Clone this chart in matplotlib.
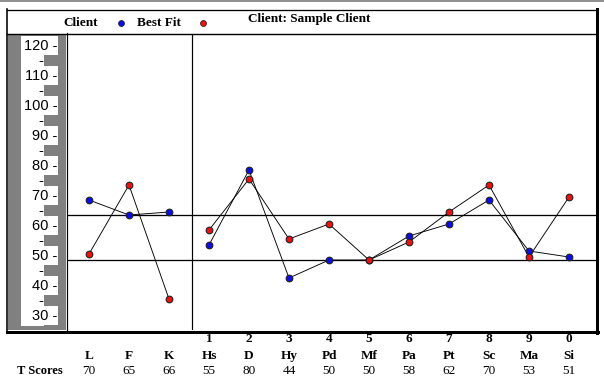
"""MMPI-style profile chart: client T scores vs best-fit profile."""

import matplotlib.pyplot as plt
from matplotlib.patches import Rectangle
from matplotlib.transforms import blended_transform_factory

scales = ["L", "F", "K", "Hs", "D", "Hy", "Pd", "Mf", "Pa", "Pt", "Sc", "Ma", "Si"]
scale_numbers = ["", "", "", "1", "2", "3", "4", "5", "6", "7", "8", "9", "0"]
client_scores = [70, 65, 66, 55, 80, 44, 50, 50, 58, 62, 70, 53, 51]
best_fit_scores = [52, 75, 37, 60, 77, 57, 62, 50, 56, 66, 75, 51, 71]
major_ticks = [120, 110, 100, 90, 80, 70, 60, 50, 40, 30]
reference_lines = [65, 50]
validity_count = 3  # L, F, K drawn as separate group

W, H = 604, 378
PX = 0.72  # points per pixel at dpi 100

BLUE = "#0a0aff"
RED = "#ff0a0a"
GRAY = "#808080"

fig = plt.figure(figsize=(W / 100, H / 100), dpi=100)


def box(x0, y0, x1, y1):
    return [x0 / W, 1 - y1 / H, (x1 - x0) / W, (y1 - y0) / H]


# main data area
ax = fig.add_axes(box(67, 34, 596, 330))
ax.set_xlim(-0.55, 12.675)
ax.set_ylim(26.67, 125.33)
ax.axis("off")

for v in reference_lines:
    ax.axhline(v, color="black", lw=1.3 * PX, zorder=1)
ax.axvline(validity_count - 0.425, color="black", lw=1.2 * PX, zorder=1)

idx = list(range(len(scales)))
for scores, color in [(client_scores, BLUE), (best_fit_scores, RED)]:
    for sl in (slice(0, validity_count), slice(validity_count, None)):
        ax.plot(idx[sl], scores[sl], color="black", lw=0.9 * PX, zorder=2)
    ax.plot(idx, scores, ls="none", marker="o", ms=4.8, mfc=color,
            mec="#202020", mew=0.8, zorder=3)

# gray scale strip on the left
strip = fig.add_axes(box(8, 34, 66, 330))
strip.set_xlim(8, 66)
strip.set_ylim(ax.get_ylim())
strip.set_facecolor(GRAY)
strip.set_xticks([])
strip.set_yticks([])
for s in strip.spines.values():
    s.set_visible(False)
strip.add_patch(Rectangle((21, 28.0), 23, 124.67 - 28.0, color="white", lw=0))
for v in major_ticks:
    strip.add_patch(Rectangle((21, v - 1.67), 37, 6.33, color="white", lw=0))
    strip.text(57.5, v + 1.2, f"{v} -", ha="right", va="center",
               fontsize=10.5, family="Liberation Sans")
    if v != major_ticks[-1]:
        strip.text(43.5, v - 5 + 1.2, "-", ha="right", va="center",
                   fontsize=10.5, family="Liberation Sans")

# overlay in pixel coordinates for frame and text
ov = fig.add_axes([0, 0, 1, 1], zorder=5)
ov.set_xlim(0, W)
ov.set_ylim(H, 0)
ov.axis("off")

ov.plot([0, W], [1, 1], color="#909090", lw=2 * PX, clip_on=False)
ov.plot([7, 7], [9, 332], color="black", lw=1.6 * PX)
ov.plot([7, 597], [9.5, 9.5], color="black", lw=1.3 * PX)
ov.plot([596.5, 596.5], [8.5, 333], color="black", lw=3 * PX)
ov.plot([7, 598], [331.5, 331.5], color="black", lw=3 * PX)
ov.plot([7, 596], [33.5, 33.5], color="black", lw=1.4 * PX)
ov.plot([66.5, 66.5], [33, 331], color="black", lw=1.2 * PX)

serif = "Liberation Serif"
ov.text(63, 26, "Client", fontsize=9.5, weight="bold", family=serif, va="baseline")
ov.plot(121, 22.5, marker="o", ms=4.2, mfc=BLUE, mec="#202020", mew=0.6)
ov.text(137, 26, "Best Fit", fontsize=9.5, weight="bold", family=serif, va="baseline")
ov.plot(203, 23, marker="o", ms=4.2, mfc=RED, mec="#202020", mew=0.6)
ov.text(248, 22, "Client: Sample Client", fontsize=9.5, weight="bold",
        family=serif, va="baseline")

# scale labels under the chart
tr = blended_transform_factory(ax.transData, ov.transData)
for i, (num, name, score) in enumerate(zip(scale_numbers, scales, client_scores)):
    ov.text(i, 342, num, transform=tr, ha="center", va="baseline",
            fontsize=9.5, weight="bold", family=serif)
    ov.text(i, 359, name, transform=tr, ha="center", va="baseline",
            fontsize=9.5, weight="bold", family=serif)
    ov.text(i, 374, str(score), transform=tr, ha="center", va="baseline",
            fontsize=9.5, family=serif)
ov.text(17, 374, "T Scores", ha="left", va="baseline", fontsize=9,
        weight="bold", family=serif)

fig.savefig("out.png", dpi=100)
